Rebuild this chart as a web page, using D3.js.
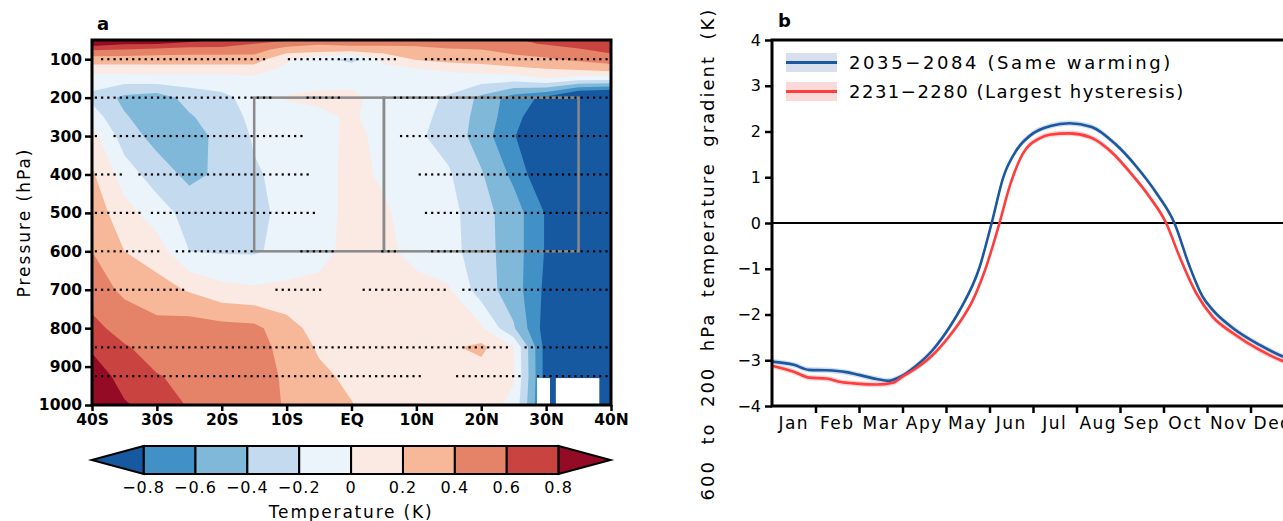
<!DOCTYPE html>
<html>
<head>
<meta charset="utf-8">
<script src="https://cdn.jsdelivr.net/npm/d3@7"></script>
<style>
  body { margin: 0; background: #fff; }
  text { font-family: "DejaVu Sans", Verdana, sans-serif; fill: #000; }
</style>
</head>
<body>
<svg id="chart" width="1283" height="521"></svg>
<script>
// ---------- panel a : temperature change, latitude x pressure ----------
const lats = [-40, -35, -30, -25, -20, -15, -10, -5, 0, 5, 10, 15, 20, 25, 30, 35, 40];
const levels = [50, 60, 75, 100, 125, 150, 200, 250, 300, 400, 500, 600, 700, 800, 850, 925, 1000];

// one column per latitude, values top (50 hPa) to bottom (1000 hPa), in K
const tempByLat = [
  [1.05, 0.9, 0.62, 0.3, 0.12, -0.1, -0.25, -0.1, 0.08, 0.23, 0.32, 0.4, 0.5, 0.66, 0.77, 0.92, 1.05],
  [0.95, 0.82, 0.6, 0.3, 0.12, -0.1, -0.45, -0.38, -0.3, -0.1, 0.08, 0.2, 0.36, 0.52, 0.62, 0.72, 0.82],
  [0.92, 0.81, 0.55, 0.3, 0.12, -0.08, -0.5, -0.52, -0.47, -0.3, -0.1, 0.1, 0.28, 0.46, 0.52, 0.61, 0.72],
  [0.88, 0.72, 0.52, 0.3, 0.12, -0.08, -0.33, -0.42, -0.5, -0.45, -0.28, -0.2, 0.18, 0.5, 0.52, 0.56, 0.58],
  [0.79, 0.7, 0.52, 0.3, 0.12, -0.08, -0.25, -0.3, -0.33, -0.36, -0.3, -0.22, 0.06, 0.47, 0.49, 0.52, 0.53],
  [0.7, 0.6, 0.5, 0.3, 0.12, -0.05, -0.12, -0.15, -0.18, -0.22, -0.25, -0.22, 0.03, 0.45, 0.46, 0.49, 0.5],
  [0.62, 0.5, 0.3, 0.03, -0.05, -0.06, 0.01, -0.05, -0.12, -0.15, -0.15, -0.15, 0.05, 0.28, 0.35, 0.37, 0.38],
  [0.5, 0.42, 0.3, -0.12, -0.1, -0.08, 0.05, -0.05, -0.08, -0.08, -0.08, -0.06, 0.05, 0.12, 0.17, 0.25, 0.3],
  [0.5, 0.45, 0.3, -0.28, -0.08, -0.08, 0.06, 0.03, 0.05, 0.06, 0.06, 0.06, 0.08, 0.1, 0.12, 0.15, 0.21],
  [0.52, 0.45, 0.3, 0.05, -0.05, -0.1, -0.1, -0.1, -0.05, -0.03, 0.03, 0.04, 0.1, 0.1, 0.12, 0.1, 0.1],
  [0.52, 0.45, 0.33, 0.22, 0.0, -0.1, -0.15, -0.15, -0.17, -0.12, -0.1, -0.05, 0.05, 0.1, 0.12, 0.12, 0.1],
  [0.55, 0.48, 0.38, 0.28, 0.05, -0.1, -0.22, -0.25, -0.27, -0.18, -0.13, -0.12, 0.02, 0.08, 0.17, 0.12, 0.1],
  [0.56, 0.5, 0.4, 0.3, 0.1, -0.1, -0.45, -0.48, -0.5, -0.38, -0.33, -0.32, -0.3, 0.03, 0.25, 0.1, 0.1],
  [0.58, 0.55, 0.45, 0.35, 0.15, -0.1, -0.7, -0.72, -0.78, -0.65, -0.5, -0.5, -0.5, -0.38, 0.0, 0.02, -0.05],
  [0.65, 0.62, 0.5, 0.38, 0.2, 0.0, -0.85, -1.0, -1.1, -1.0, -0.82, -0.82, -0.85, -0.9, -0.9, -0.9, -0.9],
  [0.72, 0.68, 0.58, 0.44, 0.24, -0.1, -1.2, -1.2, -1.2, -1.2, -1.2, -1.2, -1.2, -1.2, -1.2, -1.2, -1.2],
  [0.76, 0.74, 0.67, 0.5, 0.3, -0.1, -1.3, -1.3, -1.3, -1.3, -1.3, -1.3, -1.3, -1.3, -1.3, -1.3, -1.3]
];

const thresholds = [-0.8, -0.6, -0.4, -0.2, 0, 0.2, 0.4, 0.6, 0.8];
const fillColors = ['#1659a1', '#4191c6', '#80b8d9', '#c4daef', '#ebf3fb',
                    '#fbeae3', '#f7b899', '#e58368', '#c94440', '#930b25'];
const cbarLabels = ['\u22120.8', '\u22120.6', '\u22120.4', '\u22120.2', '0', '0.2', '0.4', '0.6', '0.8'];

// below-ground (missing) patches
const missingLats = [[28.6, 30.6], [31.5, 38.2]];
const missingLevels = [930, 1000];

// significance stippling: level and latitude ranges with dots
const stippleLevels = [100, 200, 300, 400, 500, 600, 700, 850, 925];
const stippleRanges = [
  [[-38.8, -13.6], [-9.9, 7.2], [10.9, 39.5]],
  [[-39.2, -12.6], [-7.5, -1.3], [6.3, 39.8]],
  [[-39.2, -39.0], [-36.5, -7.9], [7.0, 39.8]],
  [[-39.2, -35.2], [-32.6, -6.9], [9.8, 39.8]],
  [[-39.2, -32.3], [-30.8, -5.2], [10.9, 39.8]],
  [[-39.2, -29.8], [-26.9, -15.3], [-7.9, -2.2], [4.1, 7.2], [11.8, 39.8]],
  [[-39.2, -26.0], [-12.1, -4.1], [1.3, 14.7], [17.2, 39.8]],
  [[-39.2, 24.1], [26.7, 39.8]],
  [[-39.2, 11.0], [16.3, 26.0], [28.6, 39.8]]
];

// averaging boxes (lat ranges) between 200 and 600 hPa
const boxLats = [[-15, 5], [5, 35]];
const boxLevels = [200, 600];

const pTicks = [100, 200, 300, 400, 500, 600, 700, 800, 900, 1000];
const latTicks = [-40, -30, -20, -10, 0, 10, 20, 30, 40];
const latLabels = ['40S', '30S', '20S', '10S', 'EQ', '10N', '20N', '30N', '40N'];

// ---------- panel b : seasonal cycle of 600-200 hPa gradient ----------
const months = ['Jan', 'Feb', 'Mar', 'Apy', 'May', 'Jun', 'Jul', 'Aug', 'Sep', 'Oct', 'Nov', 'Dec'];
const sameTime = [0, 0.5, 0.85, 1.25, 1.7, 2.0, 2.4, 2.68, 2.95, 3.3, 3.7, 4.08, 4.35, 4.76, 5.05,
                  5.32, 5.62, 6.0, 6.4, 6.84, 7.35, 7.9, 8.38, 8.84, 9.25, 9.6, 9.9, 10.13, 10.6, 11.2, 11.7, 12.0];
const sameValue = [-3.03, -3.10, -3.21, -3.22, -3.26, -3.32, -3.41, -3.45, -3.36, -3.13, -2.77, -2.28, -1.85, -1.0, 0,
                   1.01, 1.59, 1.96, 2.12, 2.18, 2.10, 1.72, 1.23, 0.65, 0, -0.95, -1.61, -1.90, -2.30, -2.66, -2.90, -3.0];
const hystTime = [0, 0.5, 0.86, 1.25, 1.55, 1.94, 2.4, 2.78, 3.0, 3.32, 3.7, 4.08, 4.35, 4.6, 4.89, 5.23,
                  5.46, 5.77, 6.15, 6.38, 6.84, 7.3, 7.84, 8.22, 8.68, 9.06, 9.37, 9.75, 10.13, 10.6, 11.2, 11.7, 12.0];
const hystValue = [-3.12, -3.25, -3.38, -3.40, -3.47, -3.51, -3.53, -3.49, -3.36, -3.17, -2.88, -2.47, -2.12, -1.72, -1.05, 0,
                   0.79, 1.52, 1.85, 1.93, 1.96, 1.88, 1.52, 1.12, 0.57, 0, -0.74, -1.53, -2.05, -2.41, -2.77, -3.0, -3.1];
const seriesNames = ['2035\u22122084 (Same warming)', '2231\u22122280 (Largest hysteresis)'];
const yTicksB = [-4, -3, -2, -1, 0, 1, 2, 3, 4];

// ======================================================================
const svg = d3.select('#chart');
const minus = d => d < 0 ? '\u2212' + Math.abs(d) : String(d);

// ---- panel a ----
const xA = d3.scaleLinear().domain([-40, 40]).range([92, 611]);
const yA = d3.scaleLinear().domain([50, 1000]).range([40, 405]);

const nLat = lats.length, nLev = levels.length;
const grid = new Array(nLat * nLev);
tempByLat.forEach((col, i) => col.forEach((v, j) => { grid[j * nLat + i] = v; }));

// grid index -> data coords (values sit at cell centres i + 0.5)
const latOfIdx = d3.scaleLinear().domain(lats.map((d, i) => i + 0.5)).range(lats).clamp(true);
const levOfIdx = d3.scaleLinear().domain(levels.map((d, j) => j + 0.5)).range(levels).clamp(true);
const toScreen = d3.geoTransform({
  point(x, y) { this.stream.point(xA(latOfIdx(x)), yA(levOfIdx(y))); }
});
const contourPath = d3.geoPath(toScreen);

const gA = svg.append('g');
gA.append('rect')
  .attr('x', xA(-40)).attr('y', yA(50))
  .attr('width', xA(40) - xA(-40)).attr('height', yA(1000) - yA(50))
  .attr('fill', fillColors[0]);

const bands = d3.contours().size([nLat, nLev]).thresholds(thresholds)(grid);
gA.selectAll('path.band').data(bands).enter().append('path')
  .attr('class', 'band')
  .attr('d', contourPath)
  .attr('fill', (d, i) => fillColors[i + 1]);

gA.selectAll('rect.missing').data(missingLats).enter().append('rect')
  .attr('class', 'missing')
  .attr('x', d => xA(d[0])).attr('width', d => xA(d[1]) - xA(d[0]))
  .attr('y', yA(missingLevels[0])).attr('height', yA(missingLevels[1]) - yA(missingLevels[0]))
  .attr('fill', '#fff');

gA.selectAll('rect.box').data(boxLats).enter().append('rect')
  .attr('class', 'box')
  .attr('x', d => xA(d[0])).attr('width', d => xA(d[1]) - xA(d[0]))
  .attr('y', yA(boxLevels[0])).attr('height', yA(boxLevels[1]) - yA(boxLevels[0]))
  .attr('fill', 'none').attr('stroke', '#8a8a8a').attr('stroke-width', 2.5);

// stippling on a regular model-like latitude grid
const dotLats = d3.range(-39.4, 40, 0.96);
const dots = [];
stippleLevels.forEach((p, k) => {
  dotLats.forEach(la => {
    if (stippleRanges[k].some(r => la >= r[0] - 0.2 && la <= r[1] + 0.2)) dots.push([la, p]);
  });
});
gA.selectAll('rect.dot').data(dots).enter().append('rect')
  .attr('class', 'dot')
  .attr('x', d => xA(d[0]) - 1.1).attr('y', d => yA(d[1]) - 1.1)
  .attr('width', 2.2).attr('height', 2.2).attr('fill', '#000');

gA.append('rect')
  .attr('x', xA(-40)).attr('y', yA(50))
  .attr('width', xA(40) - xA(-40)).attr('height', yA(1000) - yA(50))
  .attr('fill', 'none').attr('stroke', '#000').attr('stroke-width', 3);

const axA = gA.append('g').attr('transform', `translate(${xA(-40)},0)`)
  .call(d3.axisLeft(yA).tickValues(pTicks).tickFormat(d3.format('d')).tickSize(7).tickPadding(3));
const axAx = gA.append('g').attr('transform', `translate(0,${yA(1000)})`)
  .call(d3.axisBottom(xA).tickValues(latTicks).tickFormat((d, i) => latLabels[i]).tickSize(6).tickPadding(3));
[axA, axAx].forEach(ax => {
  ax.select('.domain').remove();
  ax.selectAll('line').attr('stroke', '#000').attr('stroke-width', 2.5);
  ax.selectAll('text').attr('font-size', 15.5).attr('font-weight', 'bold')
    .attr('font-family', '"DejaVu Sans", Verdana, sans-serif');
});

svg.append('text').text('Pressure (hPa)')
  .attr('transform', `translate(30,${(yA(50) + yA(1000)) / 2}) rotate(-90)`)
  .attr('text-anchor', 'middle').attr('font-size', 17).attr('letter-spacing', 2);
svg.append('text').text('a').attr('x', 97).attr('y', 30)
  .attr('font-size', 18).attr('font-weight', 'bold');

// colour bar
const xC = d3.scaleLinear().domain([-0.8, 0.8]).range([143.6, 558.6]);
const step = xC(-0.6) - xC(-0.8);
const cTop = 446, cBot = 474, cMid = (cTop + cBot) / 2;
const gC = svg.append('g');
gC.selectAll('rect').data(d3.range(thresholds.length - 1)).enter().append('rect')
  .attr('x', i => xC(thresholds[i])).attr('width', step)
  .attr('y', cTop).attr('height', cBot - cTop)
  .attr('fill', i => fillColors[i + 1]).attr('stroke', '#000').attr('stroke-width', 2);
gC.append('path')
  .attr('d', `M${xC(-0.8)},${cTop}L${xC(-0.8) - step},${cMid}L${xC(-0.8)},${cBot}Z`)
  .attr('fill', fillColors[0]).attr('stroke', '#000').attr('stroke-width', 2);
gC.append('path')
  .attr('d', `M${xC(0.8)},${cTop}L${xC(0.8) + step},${cMid}L${xC(0.8)},${cBot}Z`)
  .attr('fill', fillColors[fillColors.length - 1]).attr('stroke', '#000').attr('stroke-width', 2);
gC.selectAll('text').data(thresholds).enter().append('text')
  .attr('x', d => xC(d)).attr('y', 493)
  .attr('text-anchor', 'middle').attr('font-size', 16).attr('letter-spacing', 1)
  .text((d, i) => cbarLabels[i]);
svg.append('text').text('Temperature (K)')
  .attr('x', xC(0)).attr('y', 518).attr('text-anchor', 'middle')
  .attr('font-size', 17).attr('letter-spacing', 1.8);

// ---- panel b ----
const xB = d3.scaleLinear().domain([0, 12]).range([772, 1294]);
const yB = d3.scaleLinear().domain([-4, 4]).range([406, 40]);
const gB = svg.append('g');

const seriesT = [sameTime, hystTime];
const seriesV = [sameValue, hystValue];
const lineColors = ['#1c58a2', '#ff3d3d'];
const bandColors = ['#c9d6e6', '#f8cccc'];

seriesT.forEach((t, s) => {
  const pts = t.map((m, i) => [m, seriesV[s][i]]);
  gB.append('path')
    .attr('d', d3.area().x(d => xB(d[0])).y0(d => yB(d[1] - 0.06)).y1(d => yB(d[1] + 0.06))
      .curve(d3.curveMonotoneX)(pts))
    .attr('fill', bandColors[s]).attr('opacity', 0.8);
});
gB.append('line')
  .attr('x1', xB(0)).attr('x2', xB(12)).attr('y1', yB(0)).attr('y2', yB(0))
  .attr('stroke', '#000').attr('stroke-width', 2);
seriesT.forEach((t, s) => {
  const pts = t.map((m, i) => [m, seriesV[s][i]]);
  gB.append('path')
    .attr('d', d3.line().x(d => xB(d[0])).y(d => yB(d[1])).curve(d3.curveMonotoneX)(pts))
    .attr('fill', 'none').attr('stroke', lineColors[s]).attr('stroke-width', 2.6);
});

gB.append('rect')
  .attr('x', xB(0)).attr('y', yB(4)).attr('width', xB(12) - xB(0)).attr('height', yB(-4) - yB(4))
  .attr('fill', 'none').attr('stroke', '#000').attr('stroke-width', 3);

const axBy = gB.append('g').attr('transform', `translate(${xB(0)},0)`)
  .call(d3.axisLeft(yB).tickValues(yTicksB).tickSize(7).tickPadding(4).tickFormat(minus));
const axBx = gB.append('g').attr('transform', `translate(0,${yB(-4)})`)
  .call(d3.axisBottom(xB).tickValues(d3.range(1, 12)).tickFormat('').tickSize(7));
const monthBand = d3.scaleBand().domain(months).range([xB(0), xB(12)]);
const axBm = gB.append('g').attr('transform', `translate(0,${yB(-4)})`)
  .call(d3.axisBottom(monthBand).tickSize(0).tickPadding(11));
[axBy, axBx, axBm].forEach(ax => {
  ax.select('.domain').remove();
  ax.selectAll('line').attr('stroke', '#000').attr('stroke-width', 2.5);
  ax.selectAll('text').attr('font-size', 16)
    .attr('font-family', '"DejaVu Sans", Verdana, sans-serif');
});
axBm.selectAll('text').attr('font-size', 17).attr('letter-spacing', 1.5);

// legend
const legY = [62.5, 91.5];
seriesNames.forEach((name, s) => {
  gB.append('rect').attr('x', 786).attr('y', legY[s] - 9.5).attr('width', 51).attr('height', 19)
    .attr('fill', bandColors[s]).attr('opacity', 0.75);
  gB.append('line').attr('x1', 786).attr('x2', 837).attr('y1', legY[s]).attr('y2', legY[s])
    .attr('stroke', lineColors[s]).attr('stroke-width', 3);
  gB.append('text').text(name).attr('x', 849).attr('y', legY[s] + 6.5)
    .attr('font-size', 18).attr('letter-spacing', s === 0 ? 2.6 : 1.5);
});

svg.append('text').text('600  to  200  hPa  temperature  gradient  (K)')
  .attr('transform', `translate(714,254) rotate(-90)`)
  .attr('text-anchor', 'middle').attr('font-size', 18).attr('letter-spacing', 2)
  .style('white-space', 'pre');
svg.append('text').text('b').attr('x', 778).attr('y', 27)
  .attr('font-size', 18).attr('font-weight', 'bold');
</script>
</body>
</html>
